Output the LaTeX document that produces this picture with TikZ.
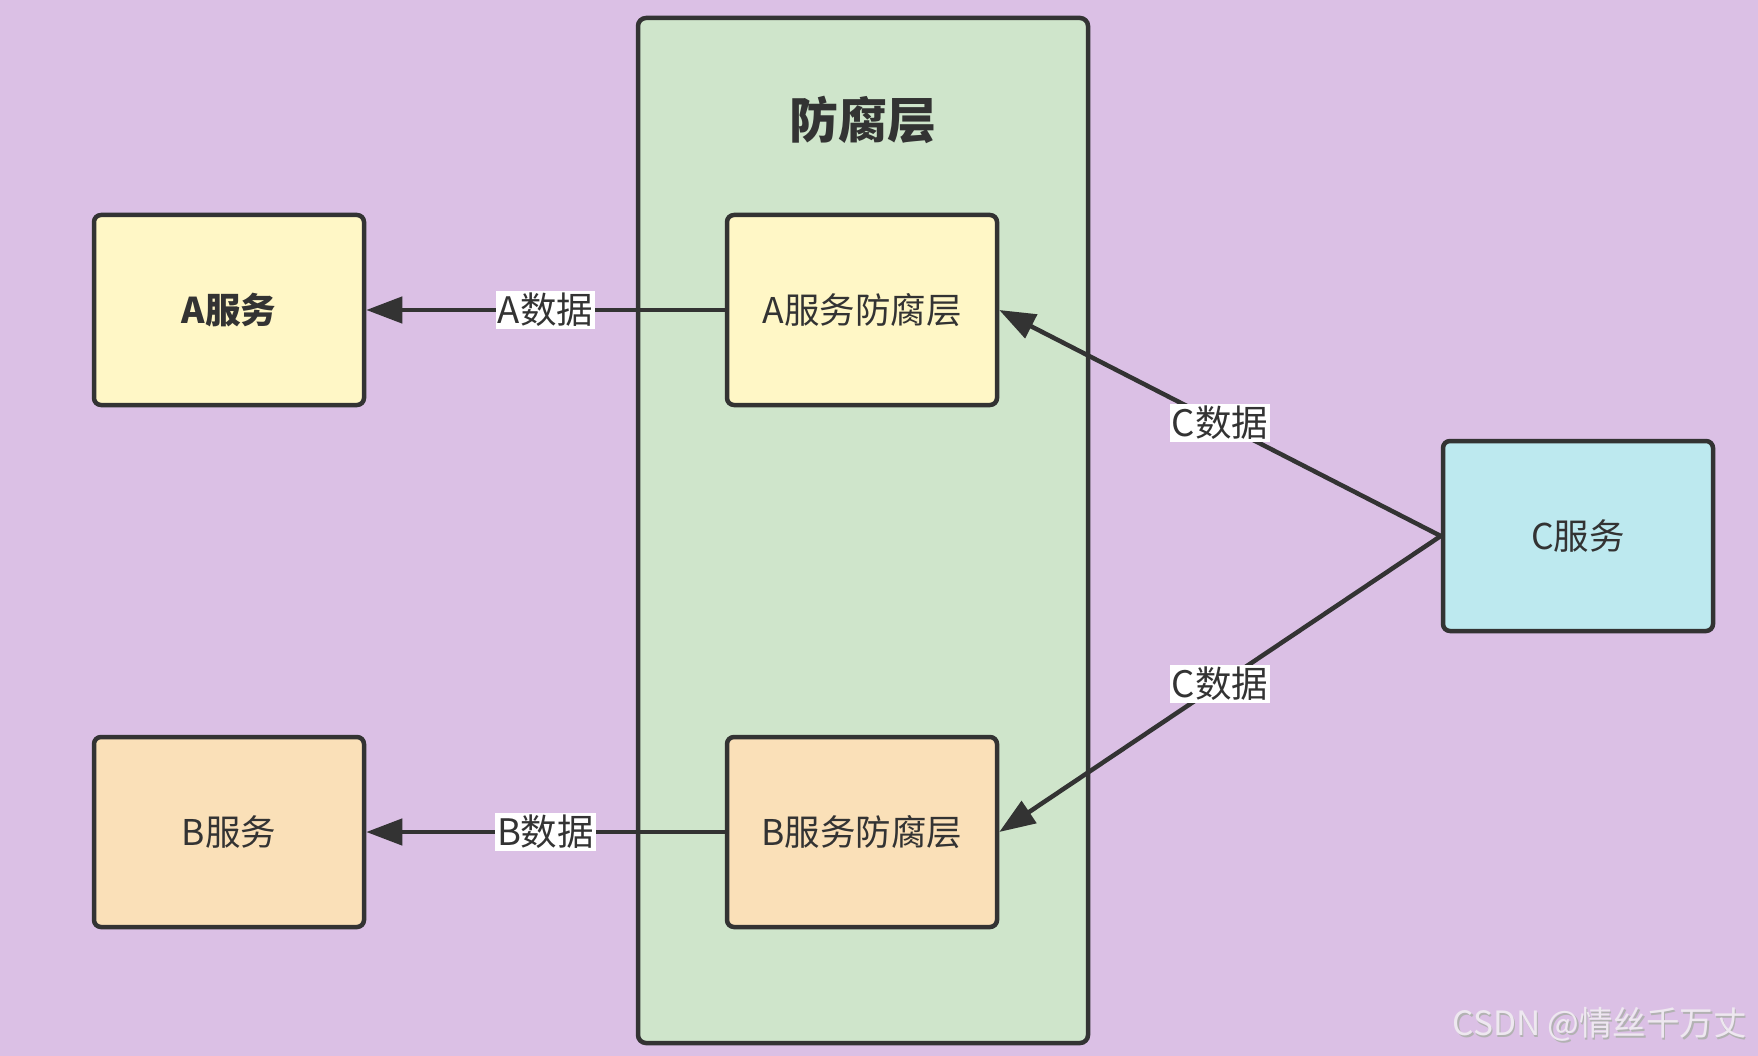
\documentclass[tikz,border=0pt]{standalone}
\usepackage{fontspec}
\setmainfont{Noto Sans CJK SC}
\usetikzlibrary{arrows.meta}
\definecolor{bgpurple}{HTML}{DBC0E5}
\definecolor{layergreen}{HTML}{CFE5CB}
\definecolor{boxyellow}{HTML}{FFF7C6}
\definecolor{boxorange}{HTML}{FAE0B8}
\definecolor{boxcyan}{HTML}{BDE9EF}
\definecolor{ink}{HTML}{333333}
\definecolor{markgrey}{HTML}{EEE8F0}
\tikzset{
  svc/.style={draw=ink, line width=4.5pt, rounded corners=7pt,
    minimum width=270pt, minimum height=190pt, inner sep=0pt,
    text=ink, font=\fontsize{35.5}{42}\selectfont},
  flow/.style={draw=ink, line width=4.5pt,
    -{Triangle[length=36pt,width=26pt]}},
  tag/.style={fill=white, inner sep=2pt, text=ink,
    font=\fontsize{36.5}{42}\selectfont}
}
\begin{document}
\begin{tikzpicture}[x=1pt,y=-1pt]
  % canvas
  \fill[bgpurple] (0,0) rectangle (1758,1056);
  \useasboundingbox (0,0) rectangle (1758,1056);

  % anti-corruption layer container
  \node[draw=ink, line width=4.5pt, rounded corners=8pt, fill=layergreen,
        minimum width=450pt, minimum height=1025pt, inner sep=0pt]
        (layer) at (863,530.5) {};
  \node[text=ink, font=\fontsize{49}{56}\selectfont\bfseries] (title)
        at (863,120) {防腐层};

  % services
  \node[svc, fill=boxyellow, font=\fontsize{35.5}{42}\selectfont\bfseries]
        (A) at (229,310) {A服务};
  \node[svc, fill=boxorange] (B) at (229,832) {B服务};
  \node[svc, fill=boxcyan] (C) at (1578,536) {C服务};

  % adapters inside the layer
  \node[svc, fill=boxyellow] (AL) at (862,310) {A服务防腐层};
  \node[svc, fill=boxorange] (BL) at (862,832) {B服务防腐层};

  % data flows
  \draw[flow] (AL.west) -- node[tag] {A数据} (A.east);
  \draw[flow] (BL.west) -- node[tag] {B数据} (B.east);
  \draw[flow] (C.west) -- node[tag] {C数据} (AL.east);
  \draw[flow] (C.west) -- node[tag] {C数据} (BL.east);

  % author mark
  \node[text=gray!60, font=\fontsize{33.5}{38}\selectfont, anchor=east]
        (markshadow) at (1752,1026) {CSDN @情丝千万丈};
  \node[text=markgrey, font=\fontsize{33.5}{38}\selectfont, anchor=east]
        (mark) at (1750.5,1024.5) {CSDN @情丝千万丈};
\end{tikzpicture}
\end{document}
